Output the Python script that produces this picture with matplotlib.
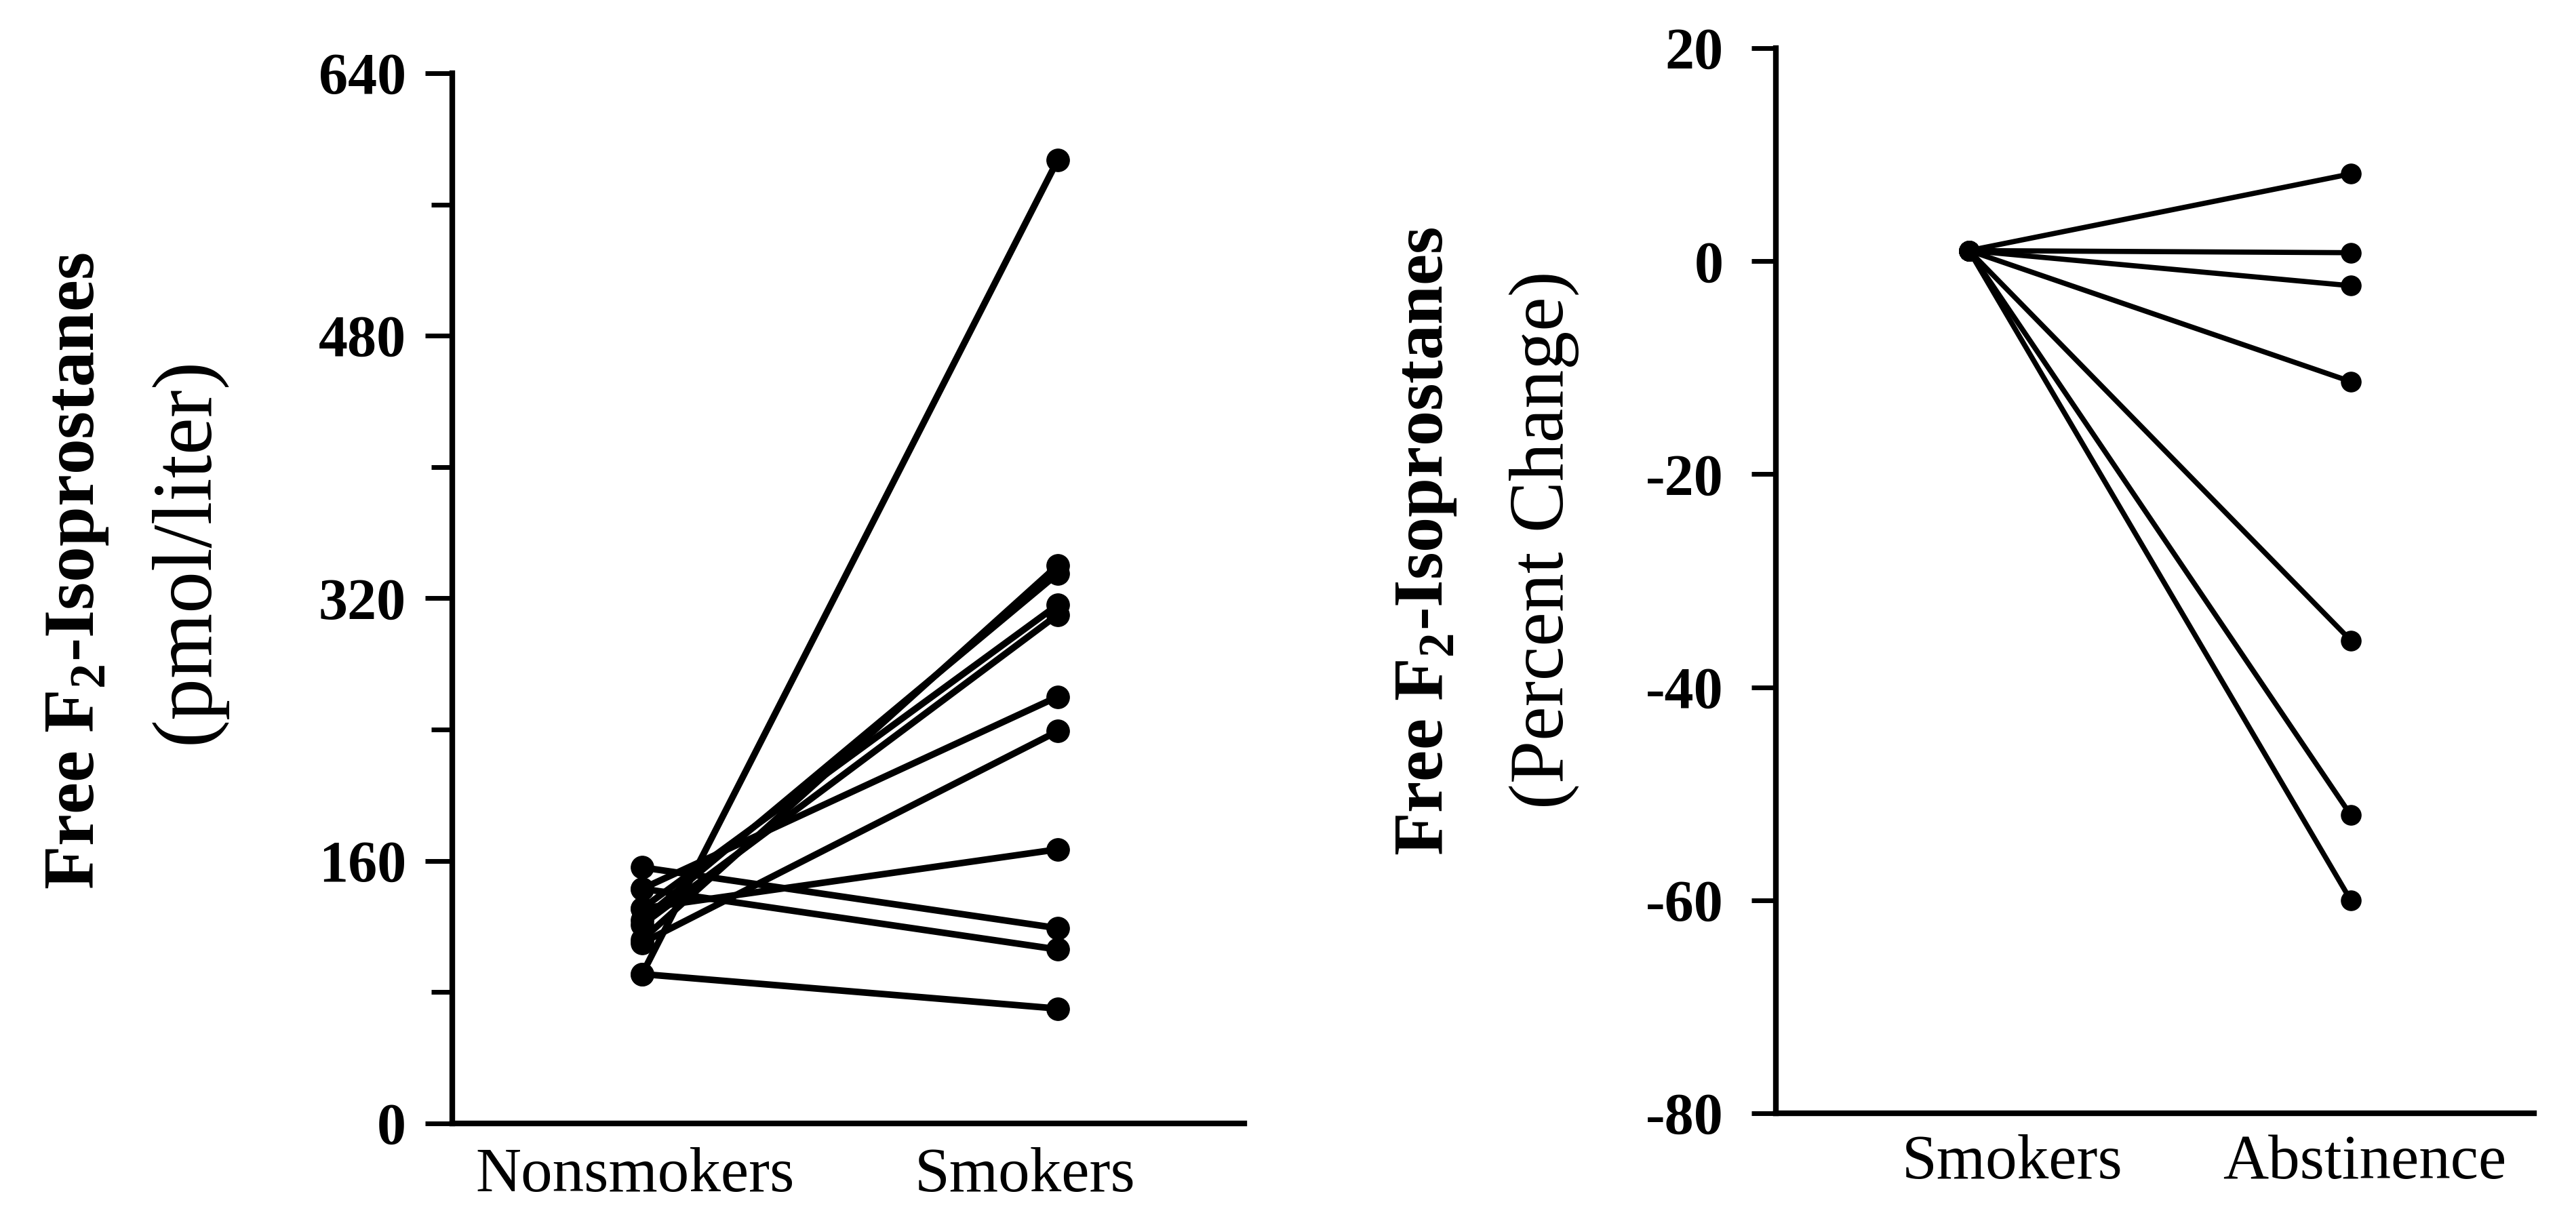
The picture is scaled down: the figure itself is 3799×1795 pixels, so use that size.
import matplotlib.pyplot as plt
import numpy as np

plt.rcParams['font.family'] = ['Liberation Serif', 'DejaVu Serif']
plt.rcParams['axes.unicode_minus'] = False
plt.rcParams['mathtext.fontset'] = 'custom'
plt.rcParams['mathtext.rm'] = 'Liberation Serif'
plt.rcParams['mathtext.bf'] = 'Liberation Serif:bold'

# left panel: free F2-isoprostanes, pmol/liter (paired subjects)
nonsmokers = [91, 112, 124, 131, 121, 143, 110, 131, 156, 143, 91]
smokers = [587, 340, 335, 316, 310, 260, 239, 167, 119, 106, 70]
left_groups = ['Nonsmokers', 'Smokers']

# right panel: percent change smokers -> abstinence
smokers_pct = [1, 1, 1, 1, 1, 1, 1]
abstinence_pct = [8.2, 0.8, -2.3, -11.3, -35.6, -52.0, -60.0]
right_groups = ['Smokers', 'Abstinence']

fig = plt.figure(figsize=(37.99, 17.95), dpi=100)

ax1 = fig.add_axes([0.1756, 0.0769, 0.3074, 0.8630])
for a, b in zip(nonsmokers, smokers):
    ax1.plot([1, 2], [a, b], color='black', lw=7, marker='o', ms=24)
ax1.set_xlim(0.543, 2.449)
ax1.set_ylim(0, 640)
ax1.set_yticks([0, 160, 320, 480, 640])
ax1.set_yticks([80, 240, 400, 560], minor=True)
ax1.set_yticklabels(['0', '160', '320', '480', '640'], fontsize=62, fontweight='bold')
ax1.tick_params(axis='y', which='major', length=29, width=5, pad=20)
ax1.tick_params(axis='y', which='minor', length=22, width=5)
ax1.set_xticks([0.982, 1.922])
ax1.set_xticklabels(left_groups, fontsize=67)
ax1.tick_params(axis='x', length=0, pad=25)

ax2 = fig.add_axes([0.6894, 0.0852, 0.2943, 0.8752])
for a, b in zip(smokers_pct, abstinence_pct):
    ax2.plot([1, 2], [a, b], color='black', lw=5.5, marker='o', ms=21)
ax2.set_xlim(0.494, 2.480)
ax2.set_ylim(-80, 20)
ax2.set_yticks([-80, -60, -40, -20, 0, 20])
ax2.set_yticklabels(['-80', '-60', '-40', '-20', '0', '20'], fontsize=62, fontweight='bold')
ax2.tick_params(axis='y', length=26, width=5, pad=30)
ax2.set_xticks([1.114, 2.037])
ax2.set_xticklabels(right_groups, fontsize=67)
ax2.tick_params(axis='x', length=0, pad=22)

for ax in (ax1, ax2):
    ax.spines['top'].set_visible(False)
    ax.spines['right'].set_visible(False)
    ax.spines['left'].set_linewidth(6)
    ax.spines['bottom'].set_linewidth(6)

fig.text(115 / 3799, 1 - 842 / 1795, 'Free F$_\\mathbf{2}$-Isoprostanes', rotation=90,
         ha='center', va='center', fontsize=76, fontweight='bold')
fig.text(277 / 3799, 1 - 812 / 1795, '(pmol/liter)', rotation=90,
         ha='center', va='center', fontsize=89)
fig.text(2104 / 3799, 1 - 798 / 1795, 'Free F$_\\mathbf{2}$-Isoprostanes', rotation=90,
         ha='center', va='center', fontsize=75, fontweight='bold')
fig.text(2277 / 3799, 1 - 796 / 1795, '(Percent Change)', rotation=90,
         ha='center', va='center', fontsize=82)

fig.savefig('out.png', dpi=100)
